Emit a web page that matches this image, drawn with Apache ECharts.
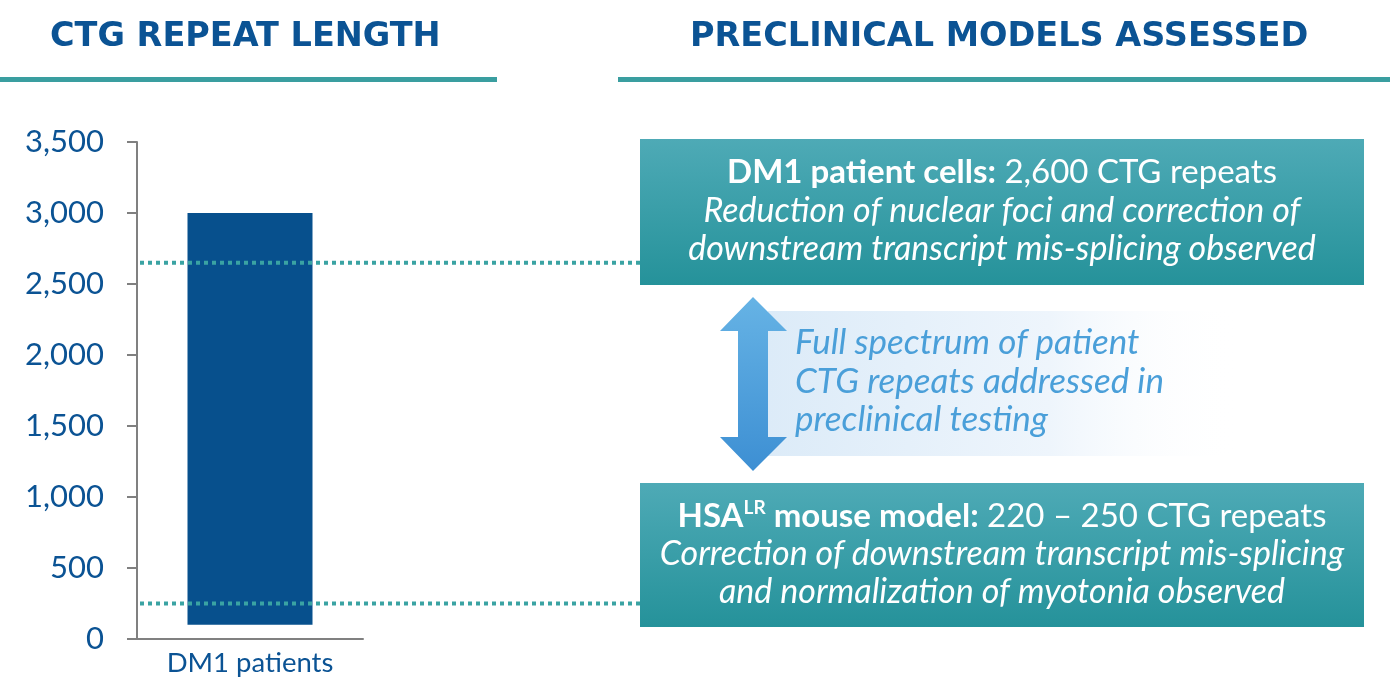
<!DOCTYPE html>
<html>
<head>
<meta charset="utf-8">
<script src="https://cdn.jsdelivr.net/npm/echarts@6/dist/echarts.min.js"></script>
<style>
html,body{margin:0;padding:0;background:#fff;}
#main{width:1390px;height:696px;}
</style>
</head>
<body>
<div id="main"></div>
<script>
// ---- data ----
var categories = ['DM1 patients'];
var barLow = [100];      // bottom of the DM1 patient range
var barHigh = [3000];    // top of the DM1 patient range
var yTicks = [0, 500, 1000, 1500, 2000, 2500, 3000, 3500];
var yTickLabels = ['0', '500', '1,000', '1,500', '2,000', '2,500', '3,000', '3,500'];
var refLevels = [2650, 250]; // preclinical model repeat levels (dotted lines)

var headerLeft = 'CTG REPEAT LENGTH';
var headerRight = 'PRECLINICAL MODELS ASSESSED';
var box1Lines = ['Reduction of nuclear foci and correction of', 'downstream transcript mis-splicing observed'];
var box2Lines = ['Correction of downstream transcript mis-splicing', 'and normalization of myotonia observed'];
var midLines = ['Full spectrum of patient', 'CTG repeats addressed in', 'preclinical testing'];

var FONT = 'Lato, "Noto Sans", sans-serif';
var BLUE = '#0b5394';
var TEAL = '#3a9ea0';

var chart = echarts.init(document.getElementById('main'), null, {renderer: 'canvas'});

var barBase = barLow.slice();
var barSpan = barHigh.map(function (v, i) { return v - barLow[i]; });

var refSeries = refLevels.map(function (v) {
  return {
    type: 'line', xAxisIndex: 1, yAxisIndex: 1, silent: true, symbol: 'none',
    data: [[0, v], [1, v]],
    lineStyle: {color: '#3aa3a3', width: 4, type: [4, 4]}
  };
});

function boxGrad() {
  return new echarts.graphic.LinearGradient(0, 0, 0, 1, [
    {offset: 0, color: '#4eaab6'}, {offset: 1, color: '#25929a'}
  ]);
}

var HFONT = 'bold 33.5px "DejaVu Sans", sans-serif';

var graphics = [
  {type: 'text', x: 50, y: 37, style: {text: headerLeft, font: HFONT, fill: BLUE, verticalAlign: 'middle'}},
  {type: 'rect', shape: {x: 0, y: 77, width: 497, height: 5}, style: {fill: TEAL}},
  {type: 'text', x: 690, y: 37, style: {text: headerRight, font: HFONT, fill: BLUE, verticalAlign: 'middle'}},
  {type: 'rect', shape: {x: 618, y: 77, width: 772, height: 5}, style: {fill: TEAL}},
  // box 1
  {type: 'rect', z: 10, shape: {x: 640, y: 139, width: 724, height: 146}, style: {fill: boxGrad()}},
  {type: 'text', z: 11, x: 1002, y: 172, style: {
    text: '{b|DM1 patient cells:}{n| 2,600 CTG repeats}', align: 'center', verticalAlign: 'middle',
    rich: {b: {font: 'bold 33px ' + FONT, fill: '#fff'}, n: {font: '33px ' + FONT, fill: '#fff'}}}},
  {type: 'text', z: 11, x: 1002, y: 211, style: {text: box1Lines[0], align: 'center', verticalAlign: 'middle', font: 'italic 34px ' + FONT, fill: '#fff'}},
  {type: 'text', z: 11, x: 1002, y: 249, style: {text: box1Lines[1], align: 'center', verticalAlign: 'middle', font: 'italic 34px ' + FONT, fill: '#fff'}},
  // box 2
  {type: 'rect', z: 10, shape: {x: 640, y: 483, width: 724, height: 144}, style: {fill: boxGrad()}},
  {type: 'text', z: 11, x: 1002, y: 516, style: {
    text: '{b|HSA}{s|LR}{b| mouse model:}{n| 220 – 250 CTG repeats}', align: 'center', verticalAlign: 'middle',
    rich: {b: {font: 'bold 33px ' + FONT, fill: '#fff', height: 36},
           s: {font: 'bold 19px ' + FONT, fill: '#fff', verticalAlign: 'top'},
           n: {font: '33px ' + FONT, fill: '#fff', height: 36}}}},
  {type: 'text', z: 11, x: 1002, y: 554, style: {text: box2Lines[0], align: 'center', verticalAlign: 'middle', font: 'italic 34px ' + FONT, fill: '#fff'}},
  {type: 'text', z: 11, x: 1002, y: 592, style: {text: box2Lines[1], align: 'center', verticalAlign: 'middle', font: 'italic 34px ' + FONT, fill: '#fff'}},
  // middle panel
  {type: 'rect', z: 5, shape: {x: 768, y: 311, width: 470, height: 145}, style: {
    fill: new echarts.graphic.LinearGradient(0, 0, 1, 0, [
      {offset: 0, color: '#dcebf8'}, {offset: 0.6, color: '#eef5fc'}, {offset: 1, color: 'rgba(255,255,255,0)'}])}},
  {type: 'polygon', z: 6, shape: {points: [[753, 297], [787, 331], [768, 331], [768, 437], [787, 437], [753, 471], [720, 437], [738, 437], [738, 331], [720, 331]]},
    style: {fill: new echarts.graphic.LinearGradient(0, 0, 0, 1, [
      {offset: 0, color: '#66b3e5'}, {offset: 1, color: '#3d8fd3'}])}},
  {type: 'text', z: 7, x: 795, y: 343, style: {text: midLines[0], verticalAlign: 'middle', font: 'italic 35px ' + FONT, fill: '#4a9fd9'}},
  {type: 'text', z: 7, x: 795, y: 382, style: {text: midLines[1], verticalAlign: 'middle', font: 'italic 35px ' + FONT, fill: '#4a9fd9'}},
  {type: 'text', z: 7, x: 795, y: 420, style: {text: midLines[2], verticalAlign: 'middle', font: 'italic 35px ' + FONT, fill: '#4a9fd9'}}
];

var option = {
  backgroundColor: '#fff',
  animation: false,
  grid: [
    {left: 137, right: 1390 - 363, top: 142, bottom: 696 - 639, containLabel: false},
    {left: 140, right: 1390 - 640, top: 142, bottom: 696 - 639, containLabel: false}
  ],
  xAxis: [
    {type: 'category', gridIndex: 0, data: categories,
     axisLine: {lineStyle: {color: '#808080', width: 2}}, axisTick: {show: false},
     axisLabel: {color: BLUE, fontSize: 27.5, fontFamily: FONT, margin: 10}},
    {type: 'value', gridIndex: 1, min: 0, max: 1, show: false}
  ],
  yAxis: [
    {type: 'value', gridIndex: 0, min: 0, max: 3500, interval: 500,
     axisLine: {show: true, lineStyle: {color: '#808080', width: 2}},
     axisTick: {show: true, length: 10, lineStyle: {color: '#808080', width: 2}},
     splitLine: {show: false},
     axisLabel: {color: BLUE, fontSize: 31, fontFamily: FONT, margin: 33,
       formatter: function (v) { var i = yTicks.indexOf(v); return i >= 0 ? yTickLabels[i] : ''; }}},
    {type: 'value', gridIndex: 1, min: 0, max: 3500, show: false}
  ],
  series: [
    {type: 'bar', stack: 'r', data: barBase, barWidth: 125, itemStyle: {color: 'rgba(0,0,0,0)'}, silent: true},
    {type: 'bar', stack: 'r', data: barSpan, barWidth: 125, itemStyle: {color: '#07508d'}, silent: true}
  ].concat(refSeries),
  graphic: graphics
};
chart.setOption(option);
</script>
</body>
</html>
